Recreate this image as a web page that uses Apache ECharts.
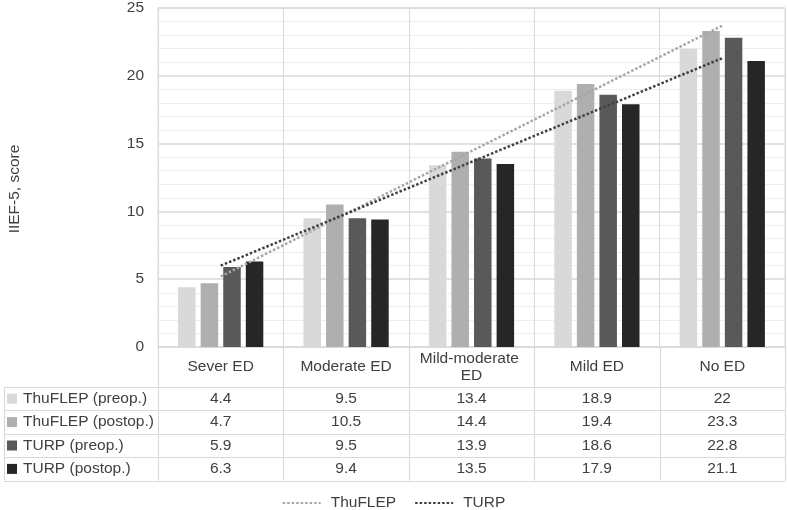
<!DOCTYPE html>
<html><head><meta charset="utf-8">
<script src="https://cdn.jsdelivr.net/npm/echarts@6/dist/echarts.min.js"></script>
<style>html,body{margin:0;padding:0;background:#fff}#c{width:787px;height:510px}</style>
</head><body><div id="c"></div>
<script>
const categories = ['Sever ED', 'Moderate ED', 'Mild-moderate ED', 'Mild ED', 'No ED'];
const seriesNames = ['ThuFLEP (preop.)', 'ThuFLEP (postop.)', 'TURP (preop.)', 'TURP (postop.)'];
const thuflepPreop = [4.4, 9.5, 13.4, 18.9, 22];
const thuflepPostop = [4.7, 10.5, 14.4, 19.4, 23.3];
const turpPreop = [5.9, 9.5, 13.9, 18.6, 22.8];
const turpPostop = [6.3, 9.4, 13.5, 17.9, 21.1];
const trendNames = ['ThuFLEP', 'TURP'];
const thuflepTrend = [5.2, null, null, null, 23.7];
const turpTrend = [6.0, null, null, null, 21.3];
const yAxisTitle = 'IIEF-5, score';

const barValues = [thuflepPreop, thuflepPostop, turpPreop, turpPostop];
const barColors = ['#d9d9d9', '#afafaf', '#595959', '#262626'];
const trendColors = ['#a6a6a6', '#404040'];
const textColor = '#404040';
const gridColor = '#d9d9d9';
const FONT = 'Arial, "Liberation Sans", sans-serif';
const FS = 15.5;

const chart = echarts.init(document.getElementById('c'), null, {renderer: 'canvas'});

const series = barValues.map((vals, i) => ({
  name: seriesNames[i],
  type: 'bar',
  data: vals,
  barWidth: 17.5,
  barGap: '29%',
  itemStyle: {color: barColors[i]},
  z: 2
}));
[thuflepTrend, turpTrend].forEach((vals, i) => {
  series.push({
    name: trendNames[i],
    type: 'line',
    data: vals,
    connectNulls: true,
    symbol: 'none',
    lineStyle: {color: trendColors[i], width: 2.5, type: [2.5, 2]},
    itemStyle: {color: trendColors[i]},
    z: 3
  });
});

const option = {
  animation: false,
  backgroundColor: '#fff',
  textStyle: {fontFamily: FONT},
  grid: {left: 158, right: 2, top: 7, bottom: 163, show: true, borderColor: gridColor, borderWidth: 1},
  xAxis: {
    type: 'category',
    data: categories,
    axisLine: {show: true, lineStyle: {color: gridColor}},
    axisTick: {show: false},
    splitLine: {show: true, lineStyle: {color: gridColor, width: 1}},
    axisLabel: {
      color: textColor, fontSize: FS, fontFamily: FONT,
      margin: 20, verticalAlign: 'middle', lineHeight: 17,
      width: 110, overflow: 'break', interval: 0
    }
  },
  yAxis: {
    type: 'value',
    min: 0, max: 25, interval: 5,
    axisLine: {show: false},
    axisTick: {show: false},
    axisLabel: {color: textColor, fontSize: FS, fontFamily: FONT, margin: 14},
    splitLine: {show: true, lineStyle: {color: gridColor, width: 1.5}},
    minorTick: {show: false, splitNumber: 5},
    minorSplitLine: {show: true, lineStyle: {color: '#eeeeee', width: 1}}
  },
  legend: {
    data: trendNames,
    top: 490,
    left: 'center',
    itemWidth: 38,
    itemHeight: 14,
    itemGap: 18,
    itemStyle: {opacity: 0},
    textStyle: {color: textColor, fontSize: FS, fontFamily: FONT, padding: [0, 0, 0, 5]}
  },
  series: series
};
chart.setOption(option);

// Data table under the plot, positioned from the category axis
const centers = categories.map(c => chart.convertToPixel({xAxisIndex: 0}, c));
const band = centers[1] - centers[0];
const yZero = chart.convertToPixel({yAxisIndex: 0}, 0);
const plotLeft = centers[0] - band / 2;
const plotRight = centers[centers.length - 1] + band / 2;
const tableLeft = 4;
const tableTop = yZero + 40;
const rowH = 23.4;
const nRows = seriesNames.length;
const tableBottom = tableTop + rowH * nRows;

const g = [];
const lineStyle = {stroke: gridColor, lineWidth: 1.2};
for (let i = 0; i <= categories.length; i++) {
  const x = Math.round(plotLeft + band * i) + 0.5;
  g.push({type: 'line', shape: {x1: x, y1: yZero, x2: x, y2: tableBottom}, style: lineStyle, silent: true});
}
g.push({type: 'line', shape: {x1: tableLeft + 0.5, y1: tableTop, x2: tableLeft + 0.5, y2: tableBottom}, style: lineStyle, silent: true});
for (let r = 0; r <= nRows; r++) {
  const y = Math.round(tableTop + rowH * r) + 0.5;
  g.push({type: 'line', shape: {x1: tableLeft, y1: y, x2: plotRight, y2: y}, style: lineStyle, silent: true});
}
for (let r = 0; r < nRows; r++) {
  const cy = tableTop + rowH * (r + 0.5);
  g.push({type: 'rect', shape: {x: tableLeft + 3, y: cy - 5, width: 10, height: 10}, style: {fill: barColors[r]}, silent: true});
  g.push({type: 'text', x: tableLeft + 19, y: cy, style: {text: seriesNames[r], fill: textColor, font: FS + 'px ' + FONT, textAlign: 'left', textVerticalAlign: 'middle'}, silent: true});
  barValues[r].forEach((v, i) => {
    g.push({type: 'text', x: centers[i], y: cy, style: {text: String(v), fill: textColor, font: FS + 'px ' + FONT, textAlign: 'center', textVerticalAlign: 'middle'}, silent: true});
  });
}
g.push({type: 'text', x: 15, y: 189, rotation: Math.PI / 2, style: {text: yAxisTitle, fill: textColor, font: FS + 'px ' + FONT, textAlign: 'center', textVerticalAlign: 'middle'}, silent: true});
chart.setOption({graphic: {elements: g}});
</script>
</body></html>
